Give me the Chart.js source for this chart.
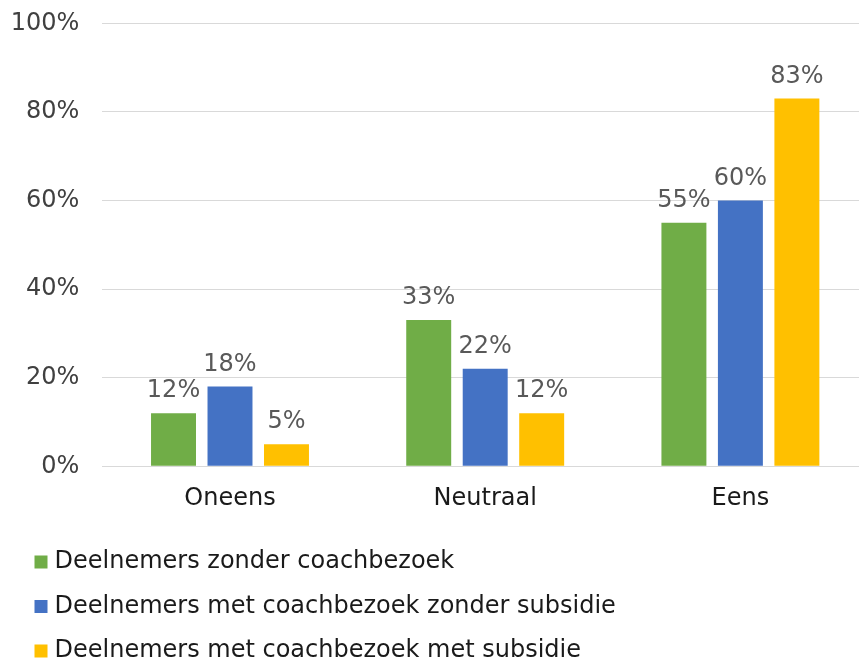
<!DOCTYPE html>
<html>
<head>
<meta charset="utf-8">
<script src="https://cdn.jsdelivr.net/npm/chart.js@4/dist/chart.umd.min.js"></script>
<style>
html,body{margin:0;padding:0;overflow:hidden;background:#fff;width:859px;height:659px;}
#wrap{position:absolute;left:0;top:0;width:870px;height:673px;}
</style>
</head>
<body>
<div id="wrap"><canvas id="c"></canvas></div>
<script>
const categories = ["Oneens", "Neutraal", "Eens"];
const seriesNames = [
  "Deelnemers zonder coachbezoek",
  "Deelnemers met coachbezoek zonder subsidie",
  "Deelnemers met coachbezoek met subsidie"
];
const zonderCoach = [12, 33, 55];
const metCoachZonderSubsidie = [18, 22, 60];
const metCoachMetSubsidie = [5, 12, 83];
const yTicks = [0, 20, 40, 60, 80, 100];
const colors = ["#70AD47", "#4472C4", "#FFC000"];

const FONT = "'DejaVu Sans', Verdana, sans-serif";
const FS = 24;

const dataLabels = {
  id: 'dataLabels',
  afterDatasetsDraw(chart) {
    const ctx = chart.ctx;
    ctx.save();
    ctx.font = FS + "px " + FONT;
    ctx.fillStyle = "#595959";
    ctx.textAlign = "center";
    ctx.textBaseline = "alphabetic";
    chart.data.datasets.forEach((ds, i) => {
      const meta = chart.getDatasetMeta(i);
      meta.data.forEach((bar, j) => {
        ctx.fillText(ds.data[j] + "%", bar.x, bar.y - 16);
      });
    });
    ctx.restore();
  }
};

const legendShift = {
  id: 'legendShift',
  afterLayout(chart) {
    if (chart.legend) { chart.legend.left += 9; chart.legend.right += 9; }
  }
};

new Chart(document.getElementById('c'), {
  type: 'bar',
  data: {
    labels: categories,
    datasets: [
      {label: seriesNames[0], data: zonderCoach, backgroundColor: colors[0]},
      {label: seriesNames[1], data: metCoachZonderSubsidie, backgroundColor: colors[1]},
      {label: seriesNames[2], data: metCoachMetSubsidie, backgroundColor: colors[2]}
    ]
  },
  options: {
    responsive: true,
    maintainAspectRatio: false,
    animation: false,
    devicePixelRatio: 1,
    datasets: {bar: {categoryPercentage: 0.664, barPercentage: 0.796}},
    layout: {padding: {left: 10, right: 2, top: 23.3, bottom: 0}},
    plugins: {
      legend: {
        position: 'bottom',
        align: 'start',
        labels: {
          boxWidth: 3, boxHeight: 3, padding: 20.5,
          color: '#1a1a1a',
          font: {family: FONT, size: FS},
          generateLabels(chart) {
            const items = Chart.defaults.plugins.legend.labels.generateLabels(chart);
            items.forEach(it => { it.lineWidth = 10; it.strokeStyle = it.fillStyle; it.lineJoin = 'miter'; });
            return items;
          }
        }
      },
      tooltip: {enabled: false}
    },
    scales: {
      x: {
        grid: {display: false, drawTicks: false},
        border: {display: false},
        ticks: {color: '#1a1a1a', padding: 18, font: {family: FONT, size: FS}},
        afterFit(scale) { scale.height = 63.2; }
      },
      y: {
        min: 0, max: 100,
        grid: {color: '#D9D9D9', lineWidth: 1, drawTicks: false},
        border: {display: false},
        afterBuildTicks(scale) { scale.ticks = yTicks.map(v => ({value: v})); },
        ticks: {
          color: '#404040', padding: 23,
          font: {family: FONT, size: FS},
          callback: v => v + '%'
        },
        afterFit(scale) {
          scale.width = 102.4 - 10;
          scale.paddingTop = 0;
          scale.paddingBottom = 0;
        }
      }
    }
  },
  plugins: [dataLabels, legendShift]
});
</script>
</body>
</html>
